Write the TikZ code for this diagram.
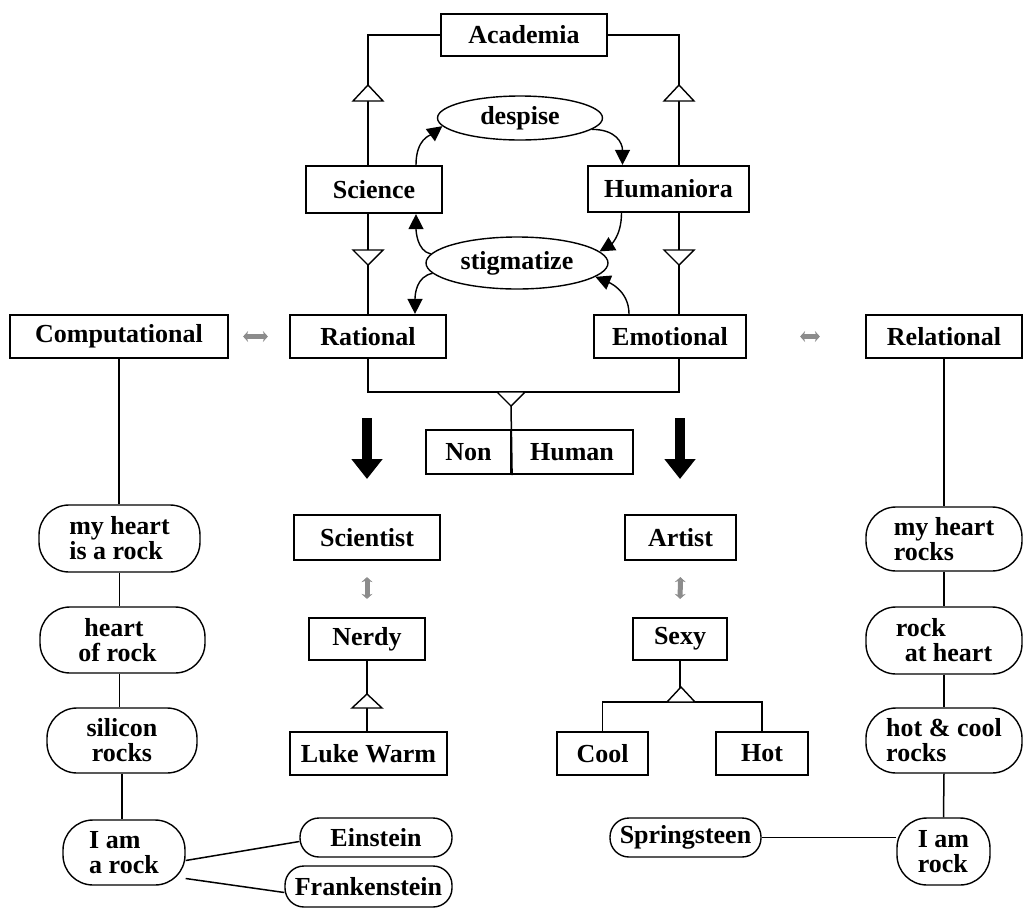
\documentclass[tikz,border=0pt]{standalone}
\usepackage{fontspec}
\setmainfont{Liberation Serif}
\usetikzlibrary{arrows.meta,calc,shapes.geometric}
\begin{document}
\begin{tikzpicture}[x=1pt,y=-1pt,line width=1.6pt,
  lbl/.style={font=\fontsize{26}{25}\selectfont\bfseries},
  box/.style={lbl,draw,line width=2.2pt,inner sep=0pt,fill=white},
  pill/.style={lbl,draw,line width=1.4pt,rounded corners=30pt,inner sep=0pt,align=left},
  smallpill/.style={lbl,draw,line width=1.4pt,rounded corners=19pt,inner sep=0pt},
  oval/.style={lbl,draw,ellipse,line width=1.4pt,inner sep=0pt},
  curved/.style={line width=1.4pt,-{Triangle[length=15pt,width=15pt]}},
  opentri/.style={draw,fill=white,line width=1.4pt,line join=miter},
  link/.style={line width=1.5pt},
  faint/.style={draw=black!45,line width=5pt,{Stealth[length=5pt,width=11pt]}-{Stealth[length=5pt,width=11pt]}},
  bigarrow/.style={line width=10pt,-{Triangle[length=20pt,width=30pt]}}]
\useasboundingbox (0,0) rectangle (1029,922);

% spine positions
\coordinate (spL) at (368,0);
\coordinate (spR) at (679,0);

% upper hierarchy
\node[box,minimum width=166,minimum height=42] (acad) at (524,35) {Academia};
\node[box,minimum width=136,minimum height=47] (sci) at (374,189.5) {Science};
\node[box,minimum width=161,minimum height=46] (hum) at (668.5,189) {Humaniora};
\node[oval,minimum width=165,minimum height=44] (desp) at (520,118) {despise};
\node[oval,minimum width=182,minimum height=52] (stig) at (517,263) {stigmatize};
\node[box,minimum width=156,minimum height=43] (rat) at (368,336.5) {Rational};
\node[box,minimum width=152,minimum height=43] (emo) at (670,336.5) {Emotional};
\node[box,minimum width=218,minimum height=43] (comp) at (119,336.5) {Computational};
\node[box,minimum width=156,minimum height=43] (rel) at (944,336.5) {Relational};

% spines with inheritance triangles
\draw[link] (acad.west) -| (spL |- sci.north);
\draw[link] (acad.east) -| (spR |- hum.north);
\draw[link] (spL |- sci.south) -- (spL |- rat.north);
\draw[link] (spR |- hum.south) -- (spR |- emo.north);
\draw[opentri] (353,101) -- (368,85) -- (383,101) -- cycle;
\draw[opentri] (664,101) -- (679,85) -- (694,101) -- cycle;
\draw[opentri] (353,250) -- (368,265) -- (383,250) -- cycle;
\draw[opentri] (664,250) -- (679,265) -- (694,250) -- cycle;

% relations between the disciplines
\draw[curved] ([xshift=42pt]sci.north) .. controls +(0,-26) and +(-12,9) .. (desp.186);
\draw[curved] (desp.-9) .. controls +(24,0) and +(0,-22) .. ([xshift=-46pt]hum.north);
\draw[curved] ([xshift=-47pt]hum.south) .. controls +(0,24) and +(10,-6) .. (stig.8);
\draw[curved] (stig.174) .. controls +(-14,-3) and +(0,16) .. ([xshift=42pt]sci.south);
\draw[curved] (stig.187) .. controls +(-16,3) and +(0,-20) .. ([xshift=47pt]rat.north);
\draw[curved] ([xshift=-41pt]emo.north) .. controls +(0,-24) and +(12,5) .. (stig.-10);

% disjoint Non | Human
\node[box,minimum width=85,minimum height=44] (non) at (468.5,452) {Non};
\node[box,minimum width=122,minimum height=44] (human) at (572,452) {Human};
\coordinate (bar) at (0,392);
\draw[link] (spL |- rat.south) -- (spL |- bar) -- (spR |- bar) -- (spR |- emo.south);
\draw[opentri] (497,392) -- (511,406) -- (525,392) -- cycle;
\draw[link] (511,406) -- (non.south east);

% faint links to side classes
\draw[faint,shorten <=14pt,shorten >=21pt] (comp.east) -- (rat.west);
\draw[faint,shorten <=53pt,shorten >=45pt] (emo.east) -- (rel.west);

% big arrows
\coordinate (a1) at (367,418); \coordinate (a1e) at (367,479);
\coordinate (a2) at (680,418); \coordinate (a2e) at (680,479);
\draw[bigarrow] (a1) -- (a1e);
\draw[bigarrow] (a2) -- (a2e);

% lower middle
\node[box,minimum width=146,minimum height=45] (scient) at (367,537.5) {Scientist};
\node[box,minimum width=111,minimum height=45] (artist) at (680.5,537.5) {Artist};
\node[box,minimum width=116,minimum height=42] (nerdy) at (367,639) {Nerdy};
\node[box,minimum width=94,minimum height=42] (sexy) at (680,639) {Sexy};
\node[box,minimum width=157,minimum height=43] (luke) at (368.5,753.5) {Luke Warm};
\node[box,minimum width=91,minimum height=43] (cool) at (602.5,753.5) {Cool};
\node[box,minimum width=92,minimum height=43] (hot) at (762,753.5) {Hot};

\draw[faint,shorten <=16pt,shorten >=18pt] (scient.south) -- (nerdy.north);
\draw[faint,shorten <=16pt,shorten >=18pt] (artist.south) -- (sexy.north);

\draw[link] (nerdy.south) -- (nerdy.south |- luke.north);
\draw[opentri] (352,708) -- (367,694) -- (382,708) -- cycle;

\coordinate (split) at (0,702);
\draw[link] (sexy.south) -- (sexy.south |- split);
\draw[link] (cool.north) -- (cool.north |- split) -- (hot.north |- split) -- (hot.north);
\draw[opentri] (667,702) -- (681,687) -- (695,702) -- cycle;

% left column
\node[pill,minimum width=161,minimum height=67] (h1) at (119.5,538.5) {my heart\\is a rock};
\node[pill,minimum width=165,minimum height=66] (h2) at (122.5,640) {\hspace*{6pt}heart\\of rock\hspace*{10pt}};
\node[pill,minimum width=150,minimum height=65,align=center] (sil) at (122,740.5) {silicon\\rocks};
\node[pill,minimum width=122,minimum height=65] (iam) at (124,852.5) {I am\\a rock};
\node[smallpill,minimum width=152,minimum height=39] (ein) at (376,837.5) {Einstein};
\node[smallpill,minimum width=167,minimum height=41] (frank) at (368.5,886.5) {Frankenstein};

\draw[link] (comp.south) -- (comp.south |- h1.north);
\draw[link] (h1.south) -- (h1.south |- h2.north);
\draw[link] (h1.south |- h2.south) -- (h1.south |- sil.north);
\draw[link] (sil.south) -- (sil.south |- iam.north);
\draw[link] ([yshift=-8pt]iam.east) -- ([yshift=-4pt]ein.west);
\draw[link] ([yshift=-26pt]iam.east) -- ([yshift=-6pt]frank.west);

% right column
\node[pill,minimum width=156,minimum height=64] (r1) at (944,539) {my heart\\rocks\hspace*{2pt}};
\node[pill,minimum width=156,minimum height=67] (r2) at (944,640.5) {rock\\\hspace*{9pt}at heart};
\node[pill,minimum width=156,minimum height=65] (r3) at (944,740.5) {hot \& cool\\rocks};
\node[pill,minimum width=93,minimum height=67] (r4) at (943.5,851.5) {I am\\rock};
\node[smallpill,minimum width=151,minimum height=39] (spr) at (685.5,837.5) {Springsteen};

\draw[link] (rel.south) -- (r1.north);
\draw[link] (r1.south) -- (r2.north);
\draw[link] (r2.south) -- (r3.north);
\draw[link] (r3.south) -- (r4.north);
\draw[link] (spr.east) -- (spr.east -| r4.west);
\end{tikzpicture}
\end{document}
